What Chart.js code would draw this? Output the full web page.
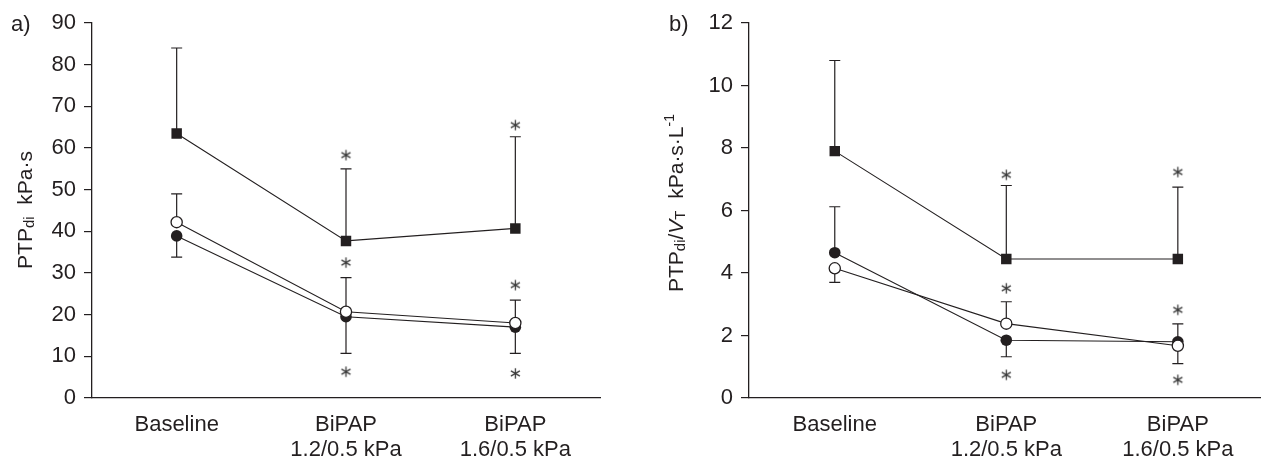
<!DOCTYPE html>
<html>
<head>
<meta charset="utf-8">
<script src="https://cdn.jsdelivr.net/npm/chart.js@4/dist/chart.umd.min.js"></script>
<style>
  html, body { margin: 0; padding: 0; background: #fff; overflow: hidden; }
  #wrap { position: relative; width: 1261px; height: 459px; overflow: hidden; }
  #chartA { position: absolute; left: 0; top: 0; }
  #chartB { position: absolute; left: 620px; top: 0; }
</style>
</head>
<body>
<div id="wrap">
  <canvas id="chartA" width="620" height="459"></canvas>
  <canvas id="chartB" width="651" height="459"></canvas>
</div>
<script>
// categories
var conditions = ['Baseline', ['BiPAP', '1.2/0.5 kPa'], ['BiPAP', '1.6/0.5 kPa']];

// panel a) PTPdi, kPa·s  (error: + means bar goes up, - means down)
var ptpSquare      = [63.5, 37.7, 40.7];
var ptpSquareErr   = [20.5, 17.3, 22.0];
var ptpOpen        = [42.2, 20.7, 18.0];
var ptpOpenErr     = [6.8, 8.2, 5.5];
var ptpFilled      = [38.9, 19.5, 17.0];
var ptpFilledErr   = [-5.1, -8.8, -6.3];
var ptpStarTop     = [null, 58.3, 65.5];
var ptpStarMid     = [null, 32.5, 27.1];
var ptpStarLow     = [null, 6.3, 5.9];
var ptpTicks       = { min: 0, max: 90, step: 10 };

// panel b) PTPdi/VT, kPa·s·L-1
var vtSquare       = [7.9, 4.45, 4.45];
var vtSquareErr    = [2.9, 2.35, 2.3];
var vtFilled       = [4.65, 1.85, 1.8];
var vtFilledErr    = [1.47, -0.53, 0.57];
var vtOpen         = [4.15, 2.38, 1.67];
var vtOpenErr      = [-0.45, 0.7, -0.57];
var vtStarTop      = [null, 7.14, 7.23];
var vtStarMid      = [null, 3.51, 2.82];
var vtStarLow      = [null, 0.74, 0.58];
var vtTicks        = { min: 0, max: 12, step: 2 };

var INK = '#231f20';
var FONT = "'Liberation Sans', Arial, Helvetica, sans-serif";

// little 6-armed asterisk used as point style
function makeStar(){
	var c = document.createElement('canvas');
	c.width = 13; c.height = 13;
	var g = c.getContext('2d');
	g.strokeStyle = '#3a3a3a';
	g.lineWidth = 1.3;
	var r = 5.2;
	[90, 30, 150].forEach(function(a){
		var t = a * Math.PI / 180;
		g.beginPath();
		g.moveTo(6.5 - r * Math.cos(t), 6.5 - r * Math.sin(t));
		g.lineTo(6.5 + r * Math.cos(t), 6.5 + r * Math.sin(t));
		g.stroke();
	});
	return c;
}
var starImg = makeStar();

// error bars from dataset.errors, drawn under the markers
var errorBarPlugin = {
	id: 'errorBars',
	beforeDatasetsDraw: function(chart){
		var ctx = chart.ctx;
		var ys = chart.scales.y;
		ctx.save();
		ctx.strokeStyle = INK;
		ctx.lineWidth = 1.2;
		chart.data.datasets.forEach(function(ds, di){
			if (!ds.errors) { return; }
			var meta = chart.getDatasetMeta(di);
			ds.errors.forEach(function(e, i){
				var pt = meta.data[i];
				var yEnd = ys.getPixelForValue(ds.data[i] + e);
				ctx.beginPath();
				ctx.moveTo(pt.x, pt.y);
				ctx.lineTo(pt.x, yEnd);
				ctx.moveTo(pt.x - 5.5, yEnd);
				ctx.lineTo(pt.x + 5.5, yEnd);
				ctx.stroke();
			});
		});
		ctx.restore();
	}
};

// rotated y title with sub/superscripts plus panel letter
var labelPlugin = {
	id: 'labels',
	afterDraw: function(chart, args, opts){
		var ctx = chart.ctx;
		ctx.save();
		ctx.fillStyle = INK;
		ctx.font = '22px ' + FONT;
		ctx.textBaseline = 'alphabetic';
		ctx.fillText(opts.panel, opts.panelX, 31);

		ctx.translate(opts.titleX, opts.titleY);
		ctx.rotate(-Math.PI / 2);
		ctx.textBaseline = 'middle';
		var total = 0;
		opts.runs.forEach(function(r){
			ctx.font = (r.italic ? 'italic ' : '') + r.size + 'px ' + FONT;
			r.w = ctx.measureText(r.t).width;
			total += r.w;
		});
		var x = -total / 2;
		opts.runs.forEach(function(r){
			ctx.font = (r.italic ? 'italic ' : '') + r.size + 'px ' + FONT;
			ctx.fillText(r.t, x, r.dy || 0);
			x += r.w;
		});
		ctx.restore();
	}
};

function seriesSet(sq, sqErr, op, opErr, fi, fiErr, s1, s2, s3){
	var line = { borderColor: INK, borderWidth: 1.1, tension: 0 };
	return [
		Object.assign({ data: sq, errors: sqErr, pointStyle: 'rect', pointRadius: 7.4,
			pointBackgroundColor: INK, pointBorderColor: INK, pointBorderWidth: 0 }, line),
		Object.assign({ data: op, errors: opErr, pointStyle: 'circle', pointRadius: 5.6,
			pointBackgroundColor: '#fff', pointBorderColor: INK, pointBorderWidth: 1.3 }, line),
		Object.assign({ data: fi, errors: fiErr, pointStyle: 'circle', pointRadius: 5.8,
			pointBackgroundColor: INK, pointBorderColor: INK, pointBorderWidth: 0 }, line),
		{ data: s1, showLine: false, pointStyle: starImg },
		{ data: s2, showLine: false, pointStyle: starImg },
		{ data: s3, showLine: false, pointStyle: starImg }
	];
}

function makeChart(el, datasets, ticks, yWidth, padRight, labels){
	return new Chart(el, {
		type: 'line',
		data: { labels: conditions, datasets: datasets },
		options: {
			responsive: false,
			animation: false,
			events: [],
			layout: { padding: { top: 23, left: 0, right: padRight, bottom: 0 } },
			plugins: { legend: false, tooltip: { enabled: false }, labels: labels },
			scales: {
				x: {
					type: 'category',
					offset: true,
					grid: { display: false },
					border: { display: true, color: INK, width: 1.3 },
					ticks: { color: INK, padding: 6, maxRotation: 0, autoSkip: false,
						font: { family: FONT, size: 22, lineHeight: 1.14 } },
					afterFit: function(s){ s.height = 61; }
				},
				y: {
					min: ticks.min,
					max: ticks.max,
					grid: { display: true, drawOnChartArea: false, drawTicks: true, tickLength: 8,
						color: INK, lineWidth: 1.2 },
					border: { display: true, color: INK, width: 1.3 },
					ticks: { stepSize: ticks.step, color: INK, padding: 8,
						font: { family: FONT, size: 22 } },
					afterFit: function(s){ s.width = yWidth; }
				}
			}
		},
		plugins: [errorBarPlugin, labelPlugin]
	});
}

var chartA = makeChart(
	document.getElementById('chartA'),
	seriesSet(ptpSquare, ptpSquareErr, ptpOpen, ptpOpenErr, ptpFilled, ptpFilledErr,
		ptpStarTop, ptpStarMid, ptpStarLow),
	ptpTicks, 92, 20,
	{ panel: 'a)', panelX: 11, titleX: 26, titleY: 210, runs: [
		{ t: 'PTP', size: 21 },
		{ t: 'di', size: 15, dy: 4 },
		{ t: '  kPa\u00b7s', size: 21 }
	] }
);

var chartB = makeChart(
	document.getElementById('chartB'),
	seriesSet(vtSquare, vtSquareErr, vtOpen, vtOpenErr, vtFilled, vtFilledErr,
		vtStarTop, vtStarMid, vtStarLow),
	vtTicks, 129, 0,
	{ panel: 'b)', panelX: 49, titleX: 57, titleY: 203, runs: [
		{ t: 'PTP', size: 21 },
		{ t: 'di', size: 15, dy: 4 },
		{ t: '/', size: 21 },
		{ t: 'V', size: 21, italic: true },
		{ t: 'T', size: 15, dy: 4 },
		{ t: '  kPa\u00b7s\u00b7L', size: 21 },
		{ t: '-1', size: 14, dy: -7 }
	] }
);
</script>
</body>
</html>
